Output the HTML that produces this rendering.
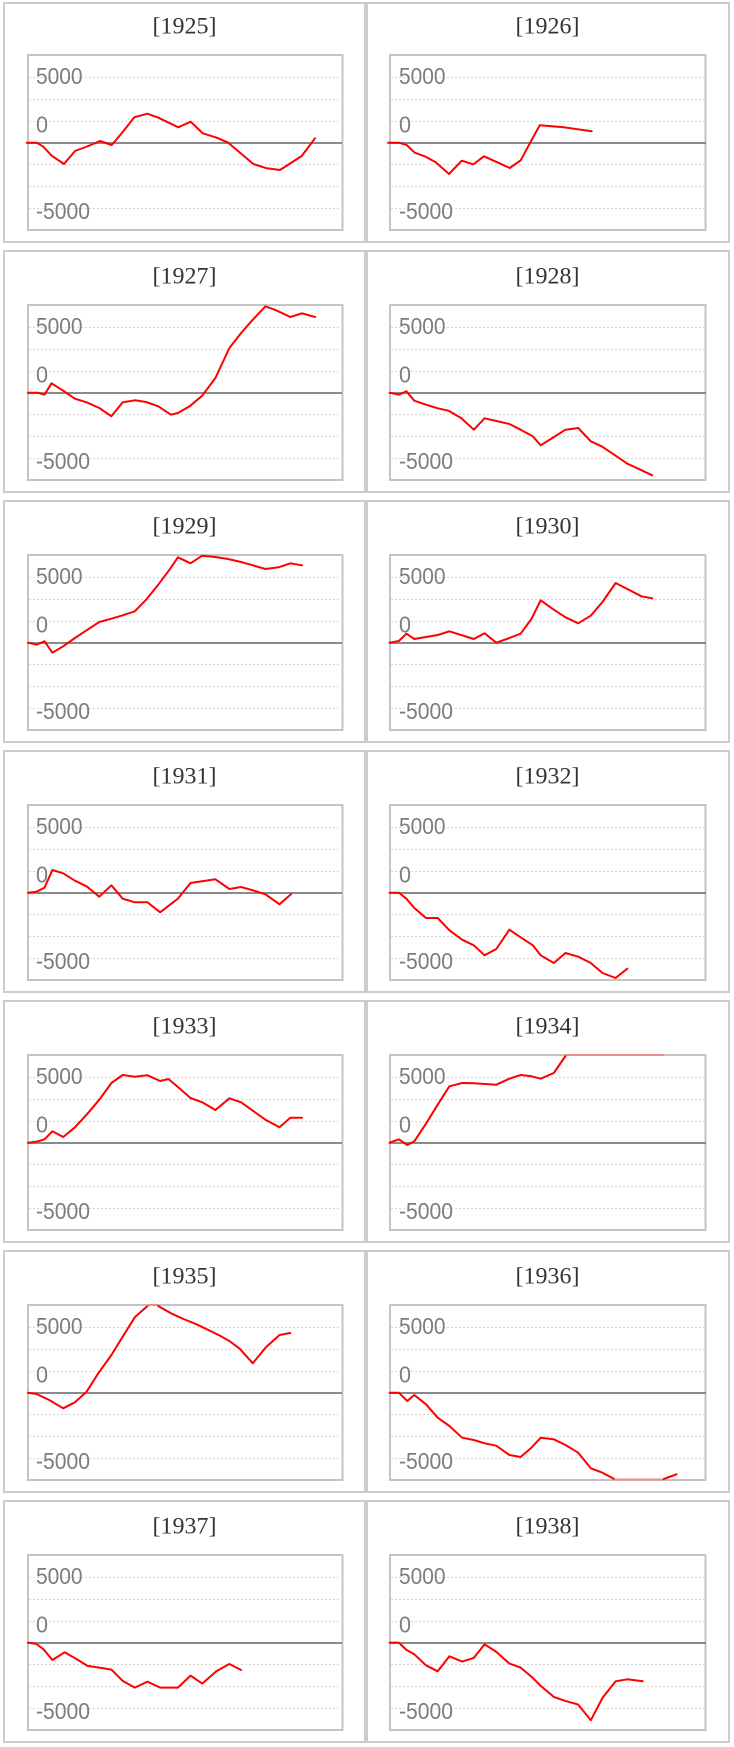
<!DOCTYPE html>
<html><head><meta charset="utf-8"><style>
html,body{margin:0;padding:0;background:#fff;}
svg{display:block;}
.t{font-family:"Liberation Serif",serif;font-size:23px;fill:#333;text-anchor:middle;}
.l{font-family:"Liberation Sans",sans-serif;font-size:23px;fill:#7c7c7c;}
.s{fill:none;stroke:#ff0000;stroke-width:2;stroke-linejoin:round;stroke-linecap:round;}
.p{fill:none;stroke:#f28a8a;stroke-width:2;}
.pb{fill:#fff;stroke:#cccccc;stroke-width:2;}
</style></head><body>
<svg width="734" height="1747" viewBox="0 0 734 1747" xmlns="http://www.w3.org/2000/svg">
<defs>
<g id="c1">
<rect x="28" y="55" width="314.5" height="175" fill="none" stroke="#c4c4c4" stroke-width="2"/>
<path d="M29 77.5H341M29 99.5H341M29 121.5H341M29 164.5H341M29 186.5H341M29 208.5H341" stroke="#d6d6d6" stroke-width="1" stroke-dasharray="2 2"/>
<path d="M27 143H342" stroke="#8a8a8a" stroke-width="2"/>
</g>
<g id="c2">
<rect x="390" y="55" width="315.5" height="175" fill="none" stroke="#c4c4c4" stroke-width="2"/>
<path d="M391 77.5H704M391 99.5H704M391 121.5H704M391 164.5H704M391 186.5H704M391 208.5H704" stroke="#d6d6d6" stroke-width="1" stroke-dasharray="2 2"/>
<path d="M389 143H706" stroke="#8a8a8a" stroke-width="2"/>
</g>
</defs>

<!-- Row 1 -->
<g transform="translate(0,0)">
<rect class="pb" x="4" y="3" width="361" height="239"/>
<rect class="pb" x="367" y="3" width="362" height="239"/>
<use href="#c1"/><use href="#c2"/>
<text class="t" x="184.5" y="33.5" textLength="64" lengthAdjust="spacingAndGlyphs">[1925]</text>
<text class="t" x="547.5" y="33.5" textLength="64" lengthAdjust="spacingAndGlyphs">[1926]</text>
<text class="l" x="36" y="84" textLength="46.5" lengthAdjust="spacingAndGlyphs">5000</text><text class="l" x="36" y="132.5" textLength="12" lengthAdjust="spacingAndGlyphs">0</text><text class="l" x="36" y="219" textLength="54" lengthAdjust="spacingAndGlyphs">-5000</text>
<text class="l" x="399" y="84" textLength="46.5" lengthAdjust="spacingAndGlyphs">5000</text><text class="l" x="399" y="132.5" textLength="12" lengthAdjust="spacingAndGlyphs">0</text><text class="l" x="399" y="219" textLength="54" lengthAdjust="spacingAndGlyphs">-5000</text>
<polyline class="s" points="26.7,142.7 36.7,142.7 43.3,146.7 51.7,155.7 64,164 75,151 88.3,146 100,141 111.7,145 121.7,133.3 134.3,117.3 147.3,113.7 158.3,117.7 178.3,127.3 190.7,121.7 202.7,133.3 216.7,137.7 228.3,142.7 253.3,164 266.7,168.3 280,170 301.7,156 315,138.3"/>
<g transform="translate(363,0)">
<polyline class="s" points="25,142.7 36,142.7 43.7,145 51.7,152.7 62.7,156.7 72.7,162.3 86,174 98.7,160.7 110.3,164.3 121,156.3 134.3,162.3 146.7,168 157.7,160.3 167.7,141.7 176.7,125.3 201,127.3 228.7,131.3"/>
</g>
</g>

<!-- Row 2 -->
<g transform="translate(0,250)">
<rect class="pb" x="4" y="1" width="361" height="241"/>
<rect class="pb" x="367" y="1" width="362" height="241"/>
<use href="#c1"/><use href="#c2"/>
<text class="t" x="184.5" y="33.5" textLength="64" lengthAdjust="spacingAndGlyphs">[1927]</text>
<text class="t" x="547.5" y="33.5" textLength="64" lengthAdjust="spacingAndGlyphs">[1928]</text>
<text class="l" x="36" y="84" textLength="46.5" lengthAdjust="spacingAndGlyphs">5000</text><text class="l" x="36" y="132.5" textLength="12" lengthAdjust="spacingAndGlyphs">0</text><text class="l" x="36" y="219" textLength="54" lengthAdjust="spacingAndGlyphs">-5000</text>
<text class="l" x="399" y="84" textLength="46.5" lengthAdjust="spacingAndGlyphs">5000</text><text class="l" x="399" y="132.5" textLength="12" lengthAdjust="spacingAndGlyphs">0</text><text class="l" x="399" y="219" textLength="54" lengthAdjust="spacingAndGlyphs">-5000</text>
<polyline class="s" points="28.1,142.7 37.5,142.7 44.5,144.7 51.5,133.3 63.2,140.7 74.9,148.7 86.6,152.3 99.3,158 111.4,166.3 122.7,152.3 134.8,150.3 146.1,152 158.2,156.3 170.9,164.7 177.9,163 189.6,156.3 202.2,145.7 215.4,128 229.4,98 241.1,83 252.8,69.7 265.4,56.3 276.2,60.3 290.3,67 302,63.3 315.1,67"/>
<g transform="translate(363,0)">
<polyline class="s" points="26.5,142.7 35.9,144.7 43.4,141.3 51.3,150.7 63,154.7 74.7,158.3 85.5,160.7 98.1,168 110.8,179.7 121.6,168.3 133.3,171 146.4,174 157.6,179.7 169.8,186.3 177.7,195.3 189.4,188 202.5,179.7 215.2,178 227.8,191.3 238.6,196.3 251.2,204.7 264.3,213.7 277.4,219.7 289.2,225.3"/>
</g>
</g>

<!-- Row 3 -->
<g transform="translate(0,500)">
<rect class="pb" x="4" y="1" width="361" height="241"/>
<rect class="pb" x="367" y="1" width="362" height="241"/>
<use href="#c1"/><use href="#c2"/>
<text class="t" x="184.5" y="33.5" textLength="64" lengthAdjust="spacingAndGlyphs">[1929]</text>
<text class="t" x="547.5" y="33.5" textLength="64" lengthAdjust="spacingAndGlyphs">[1930]</text>
<text class="l" x="36" y="84" textLength="46.5" lengthAdjust="spacingAndGlyphs">5000</text><text class="l" x="36" y="132.5" textLength="12" lengthAdjust="spacingAndGlyphs">0</text><text class="l" x="36" y="219" textLength="54" lengthAdjust="spacingAndGlyphs">-5000</text>
<text class="l" x="399" y="84" textLength="46.5" lengthAdjust="spacingAndGlyphs">5000</text><text class="l" x="399" y="132.5" textLength="12" lengthAdjust="spacingAndGlyphs">0</text><text class="l" x="399" y="219" textLength="54" lengthAdjust="spacingAndGlyphs">-5000</text>
<polyline class="s" points="28.1,142.7 36.5,144.7 44.5,141.3 52.4,152.7 63.2,146.3 74.9,138 87.5,129.7 99.3,122 111.4,118.7 122.7,115.3 134.8,111.3 146.1,99.7 158.2,84.7 169.5,69.7 177.9,57.3 190.5,63.3 202.2,55.7 215.4,57 228,59 241.1,62 252.8,65.3 265.4,69 278.6,67.3 290.3,63.3 302,65.3"/>
<g transform="translate(363,0)">
<polyline class="s" points="26.5,142.7 35.9,141 43.4,133.7 51.3,139 63,137 74.7,135 86.4,131.3 99.1,135.3 110.8,139 121.6,133.3 133.3,142.7 146.4,138 157.6,133.7 168.4,119 177.7,100.3 189.4,108.7 202.5,117.3 215.2,123.3 227.8,115.7 239.5,102 252.6,83 264.3,89 278.4,96.3 289.2,98.3"/>
</g>
</g>

<!-- Row 4 -->
<g transform="translate(0,750)">
<rect class="pb" x="4" y="1" width="361" height="241"/>
<rect class="pb" x="367" y="1" width="362" height="241"/>
<use href="#c1"/><use href="#c2"/>
<text class="t" x="184.5" y="33.5" textLength="64" lengthAdjust="spacingAndGlyphs">[1931]</text>
<text class="t" x="547.5" y="33.5" textLength="64" lengthAdjust="spacingAndGlyphs">[1932]</text>
<text class="l" x="36" y="84" textLength="46.5" lengthAdjust="spacingAndGlyphs">5000</text><text class="l" x="36" y="132.5" textLength="12" lengthAdjust="spacingAndGlyphs">0</text><text class="l" x="36" y="219" textLength="54" lengthAdjust="spacingAndGlyphs">-5000</text>
<text class="l" x="399" y="84" textLength="46.5" lengthAdjust="spacingAndGlyphs">5000</text><text class="l" x="399" y="132.5" textLength="12" lengthAdjust="spacingAndGlyphs">0</text><text class="l" x="399" y="219" textLength="54" lengthAdjust="spacingAndGlyphs">-5000</text>
<polyline class="s" points="28.1,142.7 36.5,141.7 44.5,137.7 52.4,120 63.2,123.3 74.9,130.7 86.6,136.3 99.3,146.7 111.4,135.3 122.7,148.7 134.8,152.3 147.5,152.3 160.1,162.3 177.9,148.7 190.5,133 202.2,131.3 215.4,129.3 229.4,139 241.1,137 252.8,140.3 265.4,144.3 279.5,154.3 291.2,144"/>
<g transform="translate(363,0)">
<polyline class="s" points="26.5,142.7 35.9,142.7 43.4,148.7 51.3,158 63,168 74.7,168 86.4,180.3 99.1,189.7 110.8,195.3 121.6,205.3 133.3,199 146.4,179.7 157.6,187.3 169.8,195.3 177.7,205.3 190.8,213 202.5,203 215.2,206.7 227.8,213 239.5,223 252.6,228 264.3,218.7"/>
</g>
</g>

<!-- Row 5 -->
<g transform="translate(0,1000)">
<rect class="pb" x="4" y="1" width="361" height="241"/>
<rect class="pb" x="367" y="1" width="362" height="241"/>
<use href="#c1"/><use href="#c2"/>
<text class="t" x="184.5" y="33.5" textLength="64" lengthAdjust="spacingAndGlyphs">[1933]</text>
<text class="t" x="547.5" y="33.5" textLength="64" lengthAdjust="spacingAndGlyphs">[1934]</text>
<text class="l" x="36" y="84" textLength="46.5" lengthAdjust="spacingAndGlyphs">5000</text><text class="l" x="36" y="132.5" textLength="12" lengthAdjust="spacingAndGlyphs">0</text><text class="l" x="36" y="219" textLength="54" lengthAdjust="spacingAndGlyphs">-5000</text>
<text class="l" x="399" y="84" textLength="46.5" lengthAdjust="spacingAndGlyphs">5000</text><text class="l" x="399" y="132.5" textLength="12" lengthAdjust="spacingAndGlyphs">0</text><text class="l" x="399" y="219" textLength="54" lengthAdjust="spacingAndGlyphs">-5000</text>
<polyline class="s" points="28.1,142.7 36.5,141.7 44.5,139.3 52.4,131.3 63.2,137 74.9,127.3 87.5,113.7 99.3,99.7 111.4,83 122.7,75 134.8,76.7 147.5,75.3 160.1,81 168.5,79 180.2,89 190.5,98 202.2,102.3 215.4,110 229.4,98.3 241.1,102.3 252.8,110.7 265.4,119.7 279.5,127.3 290.3,117.7 302,117.7"/>
<g transform="translate(363,0)">
<polyline class="s" points="26.5,142.7 35.9,139.3 44.3,145 51.3,141.3 63,123.7 74.7,104.7 86.4,86.3 99.1,83 110.8,83.3 133.3,84.7 146.4,78.7 157.6,75 168.4,76.3 177.7,78.7 190.8,73 202.5,56"/>
<path class="p" d="M203 55H301"/>
</g>
</g>

<!-- Row 6 -->
<g transform="translate(0,1250)">
<rect class="pb" x="4" y="1" width="361" height="241"/>
<rect class="pb" x="367" y="1" width="362" height="241"/>
<use href="#c1"/><use href="#c2"/>
<text class="t" x="184.5" y="33.5" textLength="64" lengthAdjust="spacingAndGlyphs">[1935]</text>
<text class="t" x="547.5" y="33.5" textLength="64" lengthAdjust="spacingAndGlyphs">[1936]</text>
<text class="l" x="36" y="84" textLength="46.5" lengthAdjust="spacingAndGlyphs">5000</text><text class="l" x="36" y="132.5" textLength="12" lengthAdjust="spacingAndGlyphs">0</text><text class="l" x="36" y="219" textLength="54" lengthAdjust="spacingAndGlyphs">-5000</text>
<text class="l" x="399" y="84" textLength="46.5" lengthAdjust="spacingAndGlyphs">5000</text><text class="l" x="399" y="132.5" textLength="12" lengthAdjust="spacingAndGlyphs">0</text><text class="l" x="399" y="219" textLength="54" lengthAdjust="spacingAndGlyphs">-5000</text>
<polyline class="s" points="28.1,142.7 36.5,144 49.2,150 63.2,158.3 74.9,152.3 86.6,141.7 98.3,123.3 111.4,105 122.7,86.7 134.8,67.3 147.5,56"/>
<path class="p" d="M147.5 55H158.2"/>
<polyline class="s" points="158.2,56 170.9,63.3 183.5,69 196.6,74.3 208.3,80 220,85.7 229.4,91 239.7,98.7 252.8,113.3 265.9,97.3 279.5,85 290.3,83"/>
<g transform="translate(363,0)">
<polyline class="s" points="26.5,142.7 35.9,142.7 44.3,151 51.3,145 63,154.3 74.7,167.7 86.4,176 99.1,187.7 110.8,190 121.6,193.3 133.3,195.7 146.4,205 157.6,207 168.4,197.7 177.7,187.7 190.8,189.3 202.5,195 215.2,202.7 227.8,218.3 239.5,222.7 251.2,229"/>
<path class="p" d="M251.2 229.5H300.8"/>
<polyline class="s" points="300.8,229 313.5,224.3"/>
</g>
</g>

<!-- Row 7 -->
<g transform="translate(0,1500)">
<rect class="pb" x="4" y="1" width="361" height="241"/>
<rect class="pb" x="367" y="1" width="362" height="241"/>
<use href="#c1"/><use href="#c2"/>
<text class="t" x="184.5" y="33.5" textLength="64" lengthAdjust="spacingAndGlyphs">[1937]</text>
<text class="t" x="547.5" y="33.5" textLength="64" lengthAdjust="spacingAndGlyphs">[1938]</text>
<text class="l" x="36" y="84" textLength="46.5" lengthAdjust="spacingAndGlyphs">5000</text><text class="l" x="36" y="132.5" textLength="12" lengthAdjust="spacingAndGlyphs">0</text><text class="l" x="36" y="219" textLength="54" lengthAdjust="spacingAndGlyphs">-5000</text>
<text class="l" x="399" y="84" textLength="46.5" lengthAdjust="spacingAndGlyphs">5000</text><text class="l" x="399" y="132.5" textLength="12" lengthAdjust="spacingAndGlyphs">0</text><text class="l" x="399" y="219" textLength="54" lengthAdjust="spacingAndGlyphs">-5000</text>
<polyline class="s" points="28.1,142.6 36.5,144 43.5,149.3 52.4,160 64.6,152.3 75.8,158.6 87.5,165.9 99.3,167.6 111.4,169.6 122.7,180.9 134.8,187.6 147.5,181.6 160.1,187.6 177.9,187.6 190.5,175.6 202.2,183.6 216.3,171.3 229.4,164 241.1,170"/>
<g transform="translate(363,0)">
<polyline class="s" points="26.5,142.6 35.9,142.6 43.4,149.9 51.3,154.3 63,165.3 74.7,171.3 86.4,156.3 99.1,161.6 110.8,157.9 121.6,144.3 133.3,151.9 146.4,163.6 157.6,167.6 169.8,177.9 177.7,185.9 190.8,196.9 202.5,200.9 215.2,204.6 227.8,220.3 239.5,197.9 252.6,181.3 264.3,179.3 279.8,181.3"/>
</g>
</g>
</svg>
</body></html>
